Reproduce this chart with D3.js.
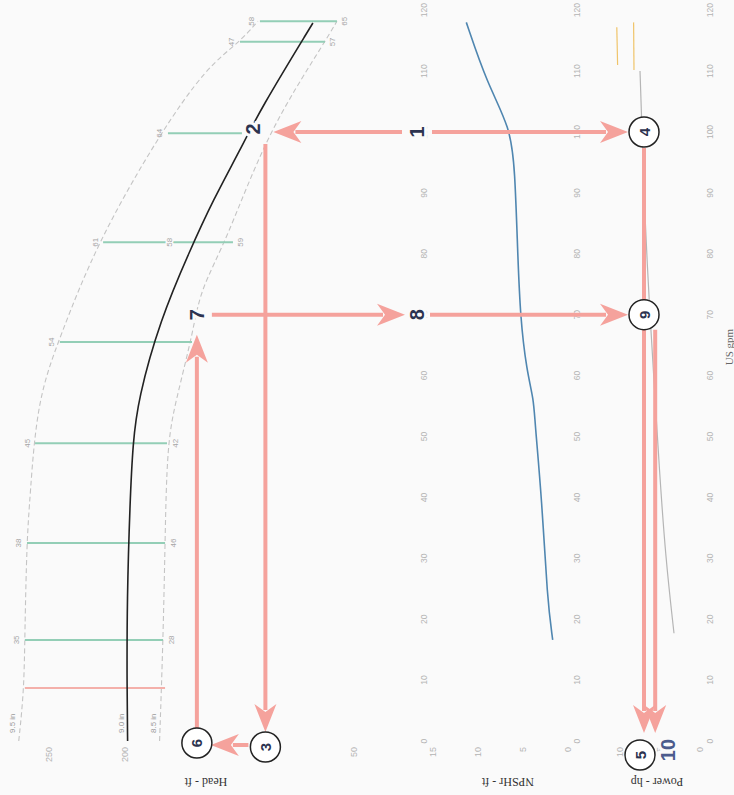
<!DOCTYPE html>
<html>
<head>
<meta charset="utf-8">
<script src="https://cdn.jsdelivr.net/npm/d3@7"></script>
<style>
  html, body { margin: 0; padding: 0; background: #fafafa; }
  svg { display: block; }
</style>
</head>
<body>
<script>
// ---- Flow axis (US gpm) ----
const flowTicks = [0, 10, 20, 30, 40, 50, 60, 70, 80, 90, 100, 110, 120];

// ---- Head panel ----
const headTicks = [250, 200, 50];
const curveLabels = ["9.5 in", "9.0 in", "8.5 in"];
const outerFlow = [0, 8.4, 17.7, 33, 40, 56, 66.3, 81.8, 99.8, 110.7, 114.8, 118.2];
const outerHead = [270, 266.5, 266, 264.7, 262.6, 258, 243, 218.6, 177.2, 146.4, 124.7, 112.9];
const midFlow = [0, 8.4, 23.2, 39.6, 48.9, 56, 69.1, 80.6, 88.8, 97, 103.6, 117.9];
const midHead = [198.5, 198.9, 198.9, 196.9, 195, 191.7, 177.2, 157.5, 142.4, 124.7, 111.6, 76.8];
const innerFlow = [0, 16.6, 32.5, 48.9, 56, 67, 74, 82.3, 99.8, 114.8, 118.2];
const innerHead = [177.5, 175.2, 173.9, 172.6, 166.7, 155.6, 151, 133.3, 107, 68.9, 61];

// efficiency markers between the impeller curves
const effFlow = [16.6, 32.5, 48.9, 65.5, 81.9, 99.8, 114.8, 118.2];
const effHeadTop = [266, 264.6, 259.3, 243, 214.6, 172, 124.7, 111.6];
const effHeadBot = [175.2, 173.9, 172.6, 156.2, 129.3, 123.4, 68.9, 61];
const effLabelTop = ["35", "38", "45", "54", "61", "64", "47", "58"];
const effLabelBot = ["28", "46", "42", "", "59", "", "57", "65"];
const effMidFlow = [81.9];
const effMidHead = [170.7];
const effMidLabel = ["58"];

// minimum flow line
const minFlow = 8.7;
const minHeadTop = 266;
const minHeadBot = 173.9;

// ---- NPSHr panel ----
const npshTicks = [0, 5, 10, 15];
const npshFlow = [16.6, 23.2, 39.6, 52.7, 56, 60.9, 69.5, 80.6, 93.8, 100.7, 108, 118];
const npshVal = [1.7, 2.3, 2.9, 3.7, 3.8, 4.6, 5.3, 5.6, 5.9, 6.4, 9.0, 11.3];

// ---- Power panel ----
const powerTicks = [0, 5, 10];
const powerFlow = [17.7, 30, 45, 56, 69.5, 88.8, 100.7, 110];
const powerVal = [3.25, 4.3, 5.1, 5.6, 6.25, 7.0, 7.25, 7.5];
const powerFlowB = [110.2, 118];
const powerValB = [8.25, 8.3];
const powerFlowC = [111, 117.2];
const powerValC = [10.3, 10.4];

// ---- Reading steps ----
const flowA = 100, headA = 108, powA = 7.0;
const flowB = 70, headB = 153, powB = 5.6;

// ---------------------------------------------------------------
const svg = d3.select("body").append("svg")
  .attr("width", 734).attr("height", 795);
svg.append("rect").attr("width", 734).attr("height", 795).attr("fill", "#fafafa");

// the chart is laid out upright (flow left to right) and turned a quarter turn
const g = svg.append("g").attr("transform", "translate(0,795) rotate(-90)");

const x = d3.scaleLinear().domain([0, 120]).range([54, 784.8]);
const headY = d3.scaleLinear().domain([50, 250]).range([353.7, 49.2]);
const npshY = d3.scaleLinear().domain([0, 15]).range([568, 433]);
const powY = d3.scaleLinear().domain([0, 10]).range([700, 620]);

const FONT = "'Liberation Serif', 'DejaVu Serif', serif";
const SANS = "'Liberation Sans', Arial, sans-serif";
const tickColor = "#b4b4b4";

// flow tick labels under each panel
[424, 577, 710].forEach(rowY => {
  g.append("g").selectAll("text").data(flowTicks).join("text")
    .attr("x", d => x(d)).attr("y", rowY)
    .attr("text-anchor", "middle").attr("dominant-baseline", "central")
    .attr("font-family", SANS).attr("font-size", 8.5).attr("fill", tickColor)
    .text(d => d);
});

function yTicks(scale, ticks) {
  g.append("g").selectAll("text").data(ticks).join("text")
    .attr("x", 48).attr("y", d => scale(d))
    .attr("text-anchor", "end").attr("dominant-baseline", "central")
    .attr("font-family", SANS).attr("font-size", 9).attr("fill", tickColor)
    .text(d => d);
}
yTicks(headY, headTicks);
yTicks(npshY, npshTicks);
yTicks(powY, powerTicks);

function yTitle(txt, cy) {
  g.append("text")
    .attr("transform", `translate(13,${cy}) rotate(-90)`)
    .attr("text-anchor", "middle").attr("dominant-baseline", "central")
    .attr("font-family", FONT).attr("font-size", 12).attr("fill", "#333")
    .text(txt);
}
yTitle("Head - ft", 206);
yTitle("NPSHr - ft", 508);
yTitle("Power - hp", 657);

g.append("text").attr("x", 448).attr("y", 729)
  .attr("text-anchor", "middle").attr("dominant-baseline", "central")
  .attr("font-family", FONT).attr("font-size", 11).attr("fill", "#666")
  .text("US gpm");

// ---- head curves ----
const lineOf = (fx, fy, ys) => d3.line()
  .x((d, i) => x(fx[i])).y((d, i) => ys(fy[i]))
  .curve(d3.curveBasis)(fx);

g.append("path").attr("d", lineOf(outerFlow, outerHead, headY))
  .attr("fill", "none").attr("stroke", "#c4c4c4").attr("stroke-width", 1.1)
  .attr("stroke-dasharray", "5,3");
g.append("path").attr("d", lineOf(innerFlow, innerHead, headY))
  .attr("fill", "none").attr("stroke", "#c4c4c4").attr("stroke-width", 1.1)
  .attr("stroke-dasharray", "5,3");

// efficiency markers
const eff = g.append("g");
effFlow.forEach((f, i) => {
  eff.append("line")
    .attr("x1", x(f)).attr("x2", x(f))
    .attr("y1", headY(effHeadTop[i])).attr("y2", headY(effHeadBot[i]))
    .attr("stroke", "#93ceb6").attr("stroke-width", 2);
  eff.append("text").attr("x", x(f)).attr("y", headY(effHeadTop[i]) - 8)
    .attr("text-anchor", "middle").attr("dominant-baseline", "central")
    .attr("font-family", SANS).attr("font-size", 8).attr("fill", "#a5a5a5")
    .text(effLabelTop[i]);
  eff.append("text").attr("x", x(f)).attr("y", headY(effHeadBot[i]) + 8)
    .attr("text-anchor", "middle").attr("dominant-baseline", "central")
    .attr("font-family", SANS).attr("font-size", 8).attr("fill", "#a5a5a5")
    .text(effLabelBot[i]);
});
effMidFlow.forEach((f, i) => {
  eff.append("text").attr("x", x(f)).attr("y", headY(effMidHead[i]))
    .attr("text-anchor", "middle").attr("dominant-baseline", "central")
    .attr("font-family", SANS).attr("font-size", 8).attr("fill", "#a5a5a5")
    .attr("stroke", "#fafafa").attr("stroke-width", 3).attr("paint-order", "stroke")
    .text(effMidLabel[i]);
});

g.append("line")
  .attr("x1", x(minFlow)).attr("x2", x(minFlow))
  .attr("y1", headY(minHeadTop)).attr("y2", headY(minHeadBot))
  .attr("stroke", "#f4b0aa").attr("stroke-width", 2);

g.append("path").attr("d", lineOf(midFlow, midHead, headY))
  .attr("fill", "none").attr("stroke", "#222").attr("stroke-width", 1.6);

// impeller labels
[outerHead[0], midHead[0], innerHead[0]].forEach((h, i) => {
  g.append("text").attr("x", 62).attr("y", headY(h) - 6)
    .attr("dominant-baseline", "central")
    .attr("font-family", SANS).attr("font-size", 8).attr("fill", "#999")
    .text(curveLabels[i]);
});

// ---- NPSHr curve ----
g.append("path").attr("d", lineOf(npshFlow, npshVal, npshY))
  .attr("fill", "none").attr("stroke", "#4f86b0").attr("stroke-width", 1.6);

// ---- Power curves ----
g.append("path").attr("d", lineOf(powerFlow, powerVal, powY))
  .attr("fill", "none").attr("stroke", "#b5b5b5").attr("stroke-width", 1.2);
g.append("path").attr("d", lineOf(powerFlowB, powerValB, powY))
  .attr("fill", "none").attr("stroke", "#f0c46a").attr("stroke-width", 1.2);
g.append("path").attr("d", lineOf(powerFlowC, powerValC, powY))
  .attr("fill", "none").attr("stroke", "#f0c46a").attr("stroke-width", 1.2);

// ---- Reading arrows ----
const arrowCol = "#f5a29c";
const steps = g.append("g");
function arrow(x1, y1, x2, y2, withHead = true) {
  const dx = x2 - x1, dy = y2 - y1, L = Math.hypot(dx, dy);
  const ux = dx / L, uy = dy / L, px = -uy, py = ux;
  const len = withHead ? 28 : 0;
  steps.append("line")
    .attr("x1", x1).attr("y1", y1)
    .attr("x2", x2 - ux * (len - 6)).attr("y2", y2 - uy * (len - 6))
    .attr("stroke", arrowCol).attr("stroke-width", 4);
  if (withHead) {
    const bx = x2 - ux * len, by = y2 - uy * len;
    const nx = x2 - ux * (len - 8), ny = y2 - uy * (len - 8);
    steps.append("path")
      .attr("d", `M${x2},${y2} L${bx + px * 11},${by + py * 11} L${nx},${ny} L${bx - px * 11},${by - py * 11} Z`)
      .attr("fill", arrowCol);
  }
}

const rowHead = 417;
// 1 -> 2 and 1 -> 4
arrow(x(flowA), rowHead - 15, x(flowA), headY(headA) + 8);
arrow(x(flowA), rowHead + 15, x(flowA), powY(powA) - 16);
// 2 -> 3
arrow(x(flowA) - 12, headY(headA), x(0) + 9, headY(headA));
// 3 -> 6
arrow(x(0) - 4, headY(headA) - 17, x(0) - 4, headY(headB) + 14);
// 6 -> 7
arrow(x(0) + 10, headY(headB), x(flowB) - 20, headY(headB));
// 7 -> 8 and 8 -> 9
arrow(x(flowB), headY(headB) + 15, x(flowB), rowHead - 12);
arrow(x(flowB), rowHead + 13, x(flowB), powY(powA) - 16);
// 4 -> 5 and 9 -> 10
arrow(x(flowA) - 16, powY(powA), x(0) + 8, powY(powA));
arrow(x(flowB) - 15, powY(powB), x(0) + 8, powY(powB));

function circ(cx, cy, label) {
  steps.append("circle").attr("cx", cx).attr("cy", cy).attr("r", 15)
    .attr("fill", "#fff").attr("stroke", "#222").attr("stroke-width", 1.5);
  steps.append("text").attr("x", cx).attr("y", cy)
    .attr("text-anchor", "middle").attr("dominant-baseline", "central")
    .attr("font-family", SANS).attr("font-weight", "bold").attr("font-size", 15)
    .attr("fill", "#2c3350").text(label);
}
function bigText(tx, ty, label, col = "#2c3350") {
  steps.append("text").attr("x", tx).attr("y", ty)
    .attr("text-anchor", "middle").attr("dominant-baseline", "central")
    .attr("font-family", SANS).attr("font-weight", "bold").attr("font-size", 20)
    .attr("fill", col)
    .attr("stroke", "#fafafa").attr("stroke-width", 6).attr("paint-order", "stroke")
    .text(label);
}

bigText(x(flowA), rowHead, "1");
bigText(x(flowA) + 3, headY(headA) - 12, "2");
circ(x(0) - 6, headY(headA), "3");
circ(x(flowA), powY(powA), "4");
circ(x(0) - 14, powY(powA) - 4, "5");
circ(x(0) - 2, headY(headB), "6");
bigText(x(flowB), headY(headB), "7");
bigText(x(flowB), rowHead, "8");
circ(x(flowB), powY(powA), "9");
bigText(x(0) - 9, powY(powB) + 13, "10", "#4b5b8c");
</script>
</body>
</html>
